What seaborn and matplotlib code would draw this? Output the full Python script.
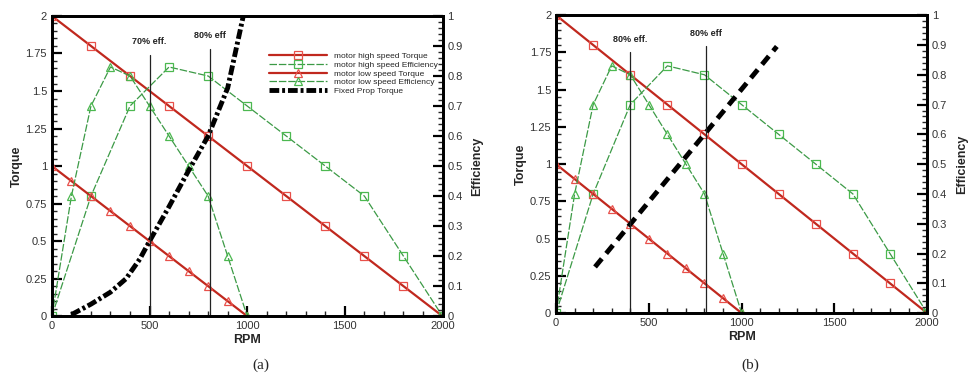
import numpy as np
import pandas as pd
import matplotlib.pyplot as plt
import seaborn as sns
from matplotlib.ticker import MultipleLocator

# motor curves (same in both panels)
rpm_high = [0, 200, 400, 600, 800, 1000, 1200, 1400, 1600, 1800, 2000]
torque_high = [2.0, 1.8, 1.6, 1.4, 1.2, 1.0, 0.8, 0.6, 0.4, 0.2, 0.0]
eff_high = [0.0, 0.4, 0.7, 0.83, 0.8, 0.7, 0.6, 0.5, 0.4, 0.2, 0.0]

rpm_low = [0, 100, 200, 300, 400, 500, 600, 700, 800, 900, 1000]
torque_low = [1.0, 0.9, 0.8, 0.7, 0.6, 0.5, 0.4, 0.3, 0.2, 0.1, 0.0]
eff_low = [0.0, 0.4, 0.7, 0.83, 0.8, 0.7, 0.6, 0.5, 0.4, 0.2, 0.0]

# fixed prop torque, panel (a)
prop_rpm_a = [100, 200, 300, 380, 450, 500, 600, 700, 800, 900, 980]
prop_torque_a = [0.01, 0.08, 0.16, 0.25, 0.38, 0.5, 0.73, 0.97, 1.2, 1.52, 2.0]

# prop line, panel (b)
prop_rpm_b = [210, 1190]
prop_torque_b = [0.31, 1.79]

# efficiency markers (vertical lines): rpm, top torque, label
vlines_a = [(500, 1.74, '70% eff.'), (810, 1.78, '80% eff')]
vlines_b = [(400, 1.75, '80% eff.'), (810, 1.79, '80% eff')]

red = '#c0281e'
red_mk = '#e8504a'
green = '#3c9a46'
green_mk = '#4cb850'

sns.set_style('ticks')
plt.rcParams['font.family'] = ['Liberation Sans', 'DejaVu Sans']

fig = plt.figure(figsize=(9.79, 3.8), dpi=100)
ax_a = fig.add_axes([0.053, 0.168, 0.399, 0.79])
ax_b = fig.add_axes([0.568, 0.176, 0.379, 0.784])


def draw(ax, prop_rpm, prop_torque, prop_style, vlines, legend):
    ax2 = ax.twinx()
    sns.lineplot(x=rpm_high, y=torque_high, ax=ax, color=red, lw=1.6,
                 marker='s', ms=6, mfc='none', mec=red_mk, mew=0.9,
                 label='motor high speed Torque')
    sns.lineplot(x=rpm_high, y=[e * 2 for e in eff_high], ax=ax, color=green, lw=0.9,
                 ls=(0, (6, 1.5)), marker='s', ms=6, mfc='none', mec=green_mk, mew=0.9,
                 label='motor high speed Efficiency')
    sns.lineplot(x=rpm_low, y=torque_low, ax=ax, color=red, lw=1.6,
                 marker='^', ms=6, mfc='none', mec=red_mk, mew=0.9,
                 label='motor low speed Torque')
    sns.lineplot(x=rpm_low, y=[e * 2 for e in eff_low], ax=ax, color=green, lw=0.9,
                 ls=(0, (6, 1.5)), marker='^', ms=6, mfc='none', mec=green_mk, mew=0.9,
                 label='motor low speed Efficiency')
    sns.lineplot(x=prop_rpm, y=prop_torque, ax=ax, color='black', lw=3.5,
                 ls=prop_style, label='Fixed Prop Torque')
    for x, top, txt in vlines:
        ax.plot([x, x], [0, top], color='#222222', lw=0.9)
        ax.text(x, top + 0.06, txt, ha='center', va='bottom', fontsize=6.5,
                fontweight='bold', color='#222222')

    ax.set_xlim(0, 2000)
    ax.set_ylim(0, 2)
    ax2.set_ylim(0, 1)
    ax.xaxis.set_major_locator(MultipleLocator(500))
    ax.xaxis.set_minor_locator(MultipleLocator(100))
    ax.yaxis.set_major_locator(MultipleLocator(0.25))
    ax.yaxis.set_minor_locator(MultipleLocator(0.05))
    ax2.yaxis.set_major_locator(MultipleLocator(0.1))
    ax2.yaxis.set_minor_locator(MultipleLocator(0.02))
    ax.set_xticks([0, 500, 1000, 1500, 2000])
    ax.set_xticklabels(['0', '500', '1000', '1500', '2000'])
    ax.set_yticks([0, 0.25, 0.5, 0.75, 1, 1.25, 1.5, 1.75, 2])
    ax.set_yticklabels(['0', '0.25', '0.5', '0.75', '1', '1.25', '1.5', '1.75', '2'])
    ax2.set_yticks(np.arange(0, 1.01, 0.1))
    ax2.set_yticklabels(['0', '0.1', '0.2', '0.3', '0.4', '0.5', '0.6', '0.7', '0.8', '0.9', '1'])

    for a in (ax, ax2):
        a.tick_params(which='major', direction='in', length=7, width=1.6,
                      labelsize=8, colors='black', labelcolor='#333333')
        a.tick_params(which='minor', direction='in', length=3.5, width=1.0)
        for s in a.spines.values():
            s.set_linewidth(2)
            s.set_color('black')
    ax2.tick_params(axis='y', which='both', left=False, right=True)
    ax.tick_params(axis='x', which='both', top=False)

    ax.set_xlabel('RPM', fontsize=9, fontweight='bold', labelpad=2)
    ax.set_ylabel('Torque', fontsize=9, fontweight='bold', labelpad=2)
    ax2.set_ylabel('Efficiency', fontsize=9, fontweight='bold', labelpad=6)

    if legend:
        ax.legend(loc='upper right', bbox_to_anchor=(1.0, 0.895), fontsize=6,
                  frameon=False, handlelength=7, labelspacing=0.1,
                  handletextpad=0.8, borderaxespad=0.2)
    else:
        ax.get_legend().remove()
    return ax2


draw(ax_a, prop_rpm_a, prop_torque_a, (0, (2, 0.6, 0.6, 0.6)), vlines_a, True)
draw(ax_b, prop_rpm_b, prop_torque_b, (0, (2.2, 1.4)), vlines_b, False)

fig.text(0.266, 0.04, '(a)', ha='center', va='center', fontsize=11,
         family=['Liberation Serif', 'DejaVu Serif'])
fig.text(0.766, 0.04, '(b)', ha='center', va='center', fontsize=11,
         family=['Liberation Serif', 'DejaVu Serif'])

fig.savefig('out.png', dpi=100)
